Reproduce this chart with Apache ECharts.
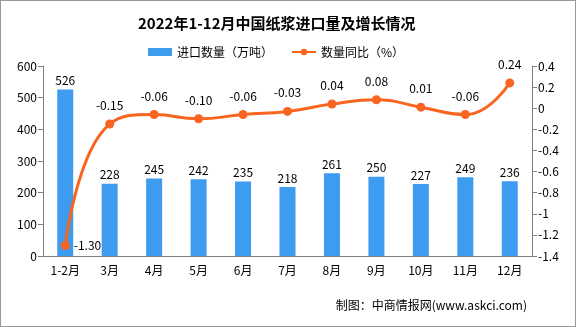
<!DOCTYPE html>
<html><head><meta charset="utf-8">
<script src="https://cdn.jsdelivr.net/npm/echarts@6/dist/echarts.min.js"></script>
<style>html,body{margin:0;padding:0;background:#fff}#c{width:576px;height:327px;box-sizing:border-box;border:1px solid #999}</style>
</head><body><div id="c"></div>
<script>
const categories = ['1-2月','3月','4月','5月','6月','7月','8月','9月','10月','11月','12月'];
const importVolume = [526,228,245,242,235,218,261,250,227,249,236];
const yoyGrowth = [-1.30,-0.15,-0.06,-0.10,-0.06,-0.03,0.04,0.08,0.01,-0.06,0.24];
const titleText = '2022年1-12月中国纸浆进口量及增长情况';
const sourceText = '制图：中商情报网(www.askci.com)';
const FONT = '"Noto Sans CJK SC", sans-serif';
const chart = echarts.init(document.getElementById('c'));
chart.setOption({
  animation:false,
  textStyle:{fontFamily:FONT},
  title:{text:titleText,left:132,top:10,textStyle:{fontSize:15,fontWeight:'bold',color:'#000',fontFamily:FONT}},
  graphic:[{type:'text',right:48,top:298,style:{text:sourceText,fontSize:12,fill:'#000',fontFamily:FONT}}],
  legend:{top:40,left:142,itemWidth:24,itemHeight:8,itemGap:18,textStyle:{fontSize:12,color:'#000'},
    data:[{name:'进口数量（万吨）',icon:'rect'},{name:'数量同比（%）'}]},
  grid:{left:42,right:43,top:65,bottom:70},
  xAxis:{type:'category',data:categories,
    axisLine:{lineStyle:{color:'#808080'}},
    axisTick:{lineStyle:{color:'#808080'},length:5},
    axisLabel:{color:'#000',fontSize:12,margin:8}},
  yAxis:[
    {type:'value',min:0,max:600,interval:100,splitLine:{show:false},
     axisLine:{show:true,lineStyle:{color:'#808080'}},axisTick:{show:true,length:5,lineStyle:{color:'#808080'}},
     axisLabel:{color:'#000',fontSize:12,margin:6}},
    {type:'value',min:-1.4,max:0.4,interval:0.2,splitLine:{show:false},
     axisLine:{show:true,lineStyle:{color:'#808080'}},axisTick:{show:true,length:5,lineStyle:{color:'#808080'}},
     axisLabel:{color:'#000',fontSize:12,margin:6,formatter:v=>String(Math.round(v*10)/10)}}
  ],
  series:[
    {name:'进口数量（万吨）',type:'bar',data:importVolume,barWidth:16,
     itemStyle:{color:'#3d9cf0'},
     label:{show:true,position:'top',color:'#000',fontSize:12,distance:3}},
    {name:'数量同比（%）',type:'line',yAxisIndex:1,smooth:true,
     data:yoyGrowth.map((v,i)=>i===0?{value:v,label:{position:'right',distance:4}}:v),
     symbol:'circle',symbolSize:9,
     lineStyle:{color:'#f96421',width:3},itemStyle:{color:'#f96421'},
     label:{show:true,position:'top',color:'#000',fontSize:12,distance:8,formatter:p=>p.value.toFixed(2)}}
  ]
});
</script></body></html>
